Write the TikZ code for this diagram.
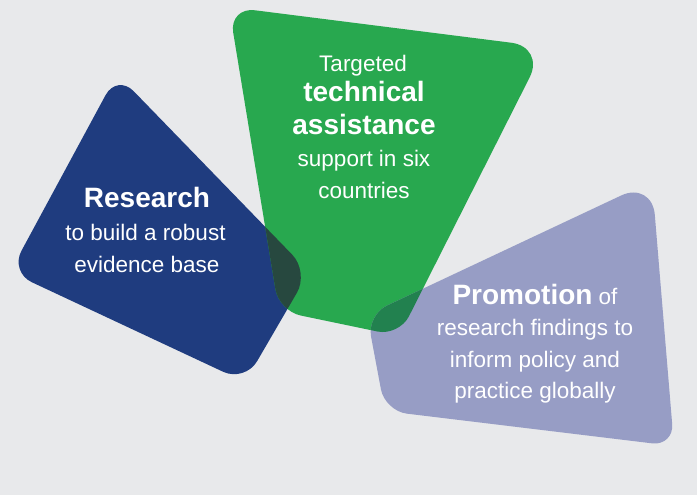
\documentclass[tikz,border=0pt]{standalone}
\usepackage{fontspec}
\setmainfont{Liberation Sans}
\definecolor{bgc}{HTML}{E8E9EB}
\definecolor{bluec}{HTML}{1F3C7F}
\definecolor{greenc}{HTML}{28A84F}
\definecolor{purplec}{HTML}{979DC5}
\definecolor{bgov}{HTML}{27483F}
\definecolor{gpov}{HTML}{22814F}
\def\bluepathA{(63.5,173) -- (117,74) -- (309,272) -- (245,382) -- (10,272) -- cycle}
\def\greenpathA{(387,27) [rounded corners=34pt] -- (545,47) [rounded corners=22pt] -- (399,336) -- (279,311) [rounded corners=26pt] -- (229,7) -- cycle}
\def\purplepathA{(509.5,248) [rounded corners=34pt] -- (652,181) [rounded corners=22pt] -- (674,446) -- (385,411) -- (367,315) -- cycle}
\tikzset{
  shapecorners/.style={rounded corners=24pt},
  boldtxt/.style={anchor=base, text=white, inner sep=0pt, font=\fontsize{28}{32}\selectfont\bfseries},
  regtxt/.style={anchor=base, text=white, inner sep=0pt, font=\fontsize{22.5}{30}\selectfont},
}
\begin{document}
\begin{tikzpicture}[x=1pt,y=-1pt]
\useasboundingbox (0,0) rectangle (697,495);
\fill[bgc] (0,0) rectangle (697,495);
\fill[bluec, shapecorners] \bluepathA;
\fill[greenc, shapecorners] \greenpathA;
\fill[purplec, shapecorners] \purplepathA;
\begin{scope}
  \clip[shapecorners] \bluepathA;
  \fill[bgov, shapecorners] \greenpathA;
\end{scope}
\begin{scope}
  \clip[shapecorners] \greenpathA;
  \fill[gpov, shapecorners] \purplepathA;
\end{scope}
% Research
\node[boldtxt] (r1) at (147,207) {Research};
\node[regtxt] (r2) at (145.5,240) {to build a robust};
\node[regtxt] (r3) at (147,272) {evidence base};
% Technical assistance
\node[regtxt] (t1) at (363,72) {Targeted};
\node[boldtxt] (t2) at (364,102) {technical};
\node[boldtxt] (t3) at (364,135) {assistance};
\node[regtxt] (t4) at (364,167) {support in six};
\node[regtxt] (t5) at (364,198) {countries};
% Promotion
\node[regtxt] (p1) at (535,304) {\textbf{\fontsize{28}{32}\selectfont Promotion} of};
\node[regtxt] (p2) at (535,335) {research findings to};
\node[regtxt] (p3) at (535,367) {inform policy and};
\node[regtxt] (p4) at (535,398) {practice globally};
\end{tikzpicture}
\end{document}
